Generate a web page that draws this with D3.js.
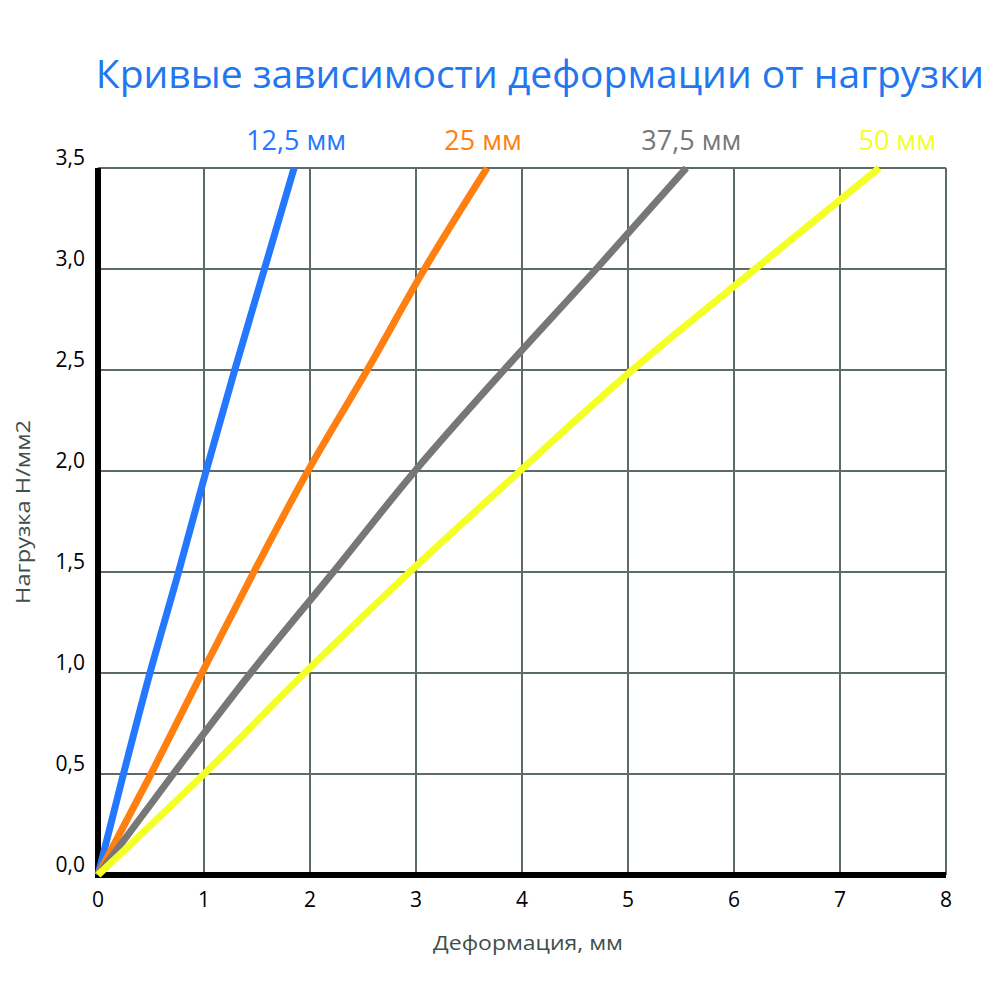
<!DOCTYPE html>
<html>
<head>
<meta charset="utf-8">
<script src="https://cdn.jsdelivr.net/npm/d3@7"></script>
<style>
  body { margin: 0; background: #fff; }
  svg { display: block; }
</style>
</head>
<body>
<div class="graph"></div>
<script>
// Нагрузка, Н/мм2 (одинаковая для всех кривых)
const loads = [0, 0.5, 1.0, 1.5, 2.0, 2.5, 3.0, 3.5];
// Деформация, мм для каждой толщины
const deform125 = [0, 0.24, 0.49, 0.76, 1.02, 1.29, 1.57, 1.85];
const deform25 = [0, 0.50, 0.98, 1.47, 1.98, 2.54, 3.08, 3.67];
const deform375 = [0, 0.71, 1.44, 2.22, 2.99, 3.83, 4.70, 5.55];
const deform50 = [0, 1.00, 1.95, 2.94, 3.98, 5.04, 6.20, 7.37];
const seriesNames = ['12,5 мм', '25 мм', '37,5 мм', '50 мм'];
const xTicks = [0, 1, 2, 3, 4, 5, 6, 7, 8];
const yTicks = [0, 0.5, 1.0, 1.5, 2.0, 2.5, 3.0, 3.5];

const title = 'Кривые зависимости деформации от нагрузки';
const xTitle = 'Деформация, мм';
const yTitle = 'Нагрузка Н/мм2';

document.addEventListener('DOMContentLoaded', function () {
  const width = 1000;
  const height = 1000;
  const margin = { top: 168, right: 54, bottom: 125, left: 98 };

  const svg = d3.select('.graph')
    .append('svg')
    .attr('width', width)
    .attr('height', height);

  const x = d3.scaleLinear().domain([0, 8]).range([margin.left, width - margin.right]);
  const y = d3.scaleLinear().domain([0, 3.5]).range([height - margin.bottom, margin.top]);

  const colors = ['#2477ff', '#ff7f10', '#777777', '#f3ff25'];
  const series = [deform125, deform25, deform375, deform50].map((d, i) => ({
    name: seriesNames[i],
    color: colors[i],
    points: d.map((v, j) => [v, loads[j]])
  }));

  // Title
  svg.append('text')
    .attr('x', 540)
    .attr('y', 88)
    .attr('text-anchor', 'middle')
    .attr('font-family', 'Open Sans, sans-serif')
    .attr('font-size', '39px')
    .attr('fill', '#2277ee')
    .text(title);

  // Grid
  const grid = svg.append('g');
  grid.selectAll('line.v')
    .data(xTicks.slice(1))
    .enter()
    .append('line')
    .attr('x1', d => x(d))
    .attr('x2', d => x(d))
    .attr('y1', y(3.5))
    .attr('y2', y(0))
    .attr('stroke', '#5c6a68')
    .attr('stroke-width', 2);
  grid.selectAll('line.h')
    .data(yTicks.slice(1))
    .enter()
    .append('line')
    .attr('x1', x(0))
    .attr('x2', x(8))
    .attr('y1', d => y(d))
    .attr('y2', d => y(d))
    .attr('stroke', '#5c6a68')
    .attr('stroke-width', 2);

  // Axes (thick black lines)
  svg.append('line')
    .attr('x1', x(0)).attr('x2', x(0))
    .attr('y1', y(3.5)).attr('y2', y(0) + 3)
    .attr('stroke', '#000').attr('stroke-width', 6);
  svg.append('line')
    .attr('x1', x(0) - 3).attr('x2', x(8))
    .attr('y1', y(0)).attr('y2', y(0))
    .attr('stroke', '#000').attr('stroke-width', 6);

  // Tick labels
  svg.selectAll('text.xt')
    .data(xTicks)
    .enter()
    .append('text')
    .attr('x', d => x(d))
    .attr('y', y(0) + 32)
    .attr('text-anchor', 'middle')
    .attr('font-family', 'Open Sans, sans-serif')
    .attr('font-size', '21px')
    .attr('fill', '#000')
    .text(d => d);

  svg.selectAll('text.yt')
    .data(yTicks)
    .enter()
    .append('text')
    .attr('x', x(0) - 13)
    .attr('y', d => y(d) - 3)
    .attr('text-anchor', 'end')
    .attr('font-family', 'Open Sans, sans-serif')
    .attr('font-size', '21px')
    .attr('fill', '#000')
    .text(d => d.toFixed(1).replace('.', ','));

  // Axis titles
  svg.append('text')
    .attr('x', 433)
    .attr('y', 950)
    .attr('textLength', 190)
    .attr('lengthAdjust', 'spacingAndGlyphs')
    .attr('font-family', 'Open Sans, sans-serif')
    .attr('font-size', '20px')
    .attr('fill', '#3e4f4c')
    .text(xTitle);

  svg.append('text')
    .attr('transform', 'translate(30,604) rotate(-90)')
    .attr('textLength', 184)
    .attr('lengthAdjust', 'spacingAndGlyphs')
    .attr('font-family', 'Open Sans, sans-serif')
    .attr('font-size', '20px')
    .attr('fill', '#3e4f4c')
    .text(yTitle);

  // Curves
  const line = d3.line()
    .x(d => x(d[0]))
    .y(d => y(d[1]))
    .curve(d3.curveMonotoneY);

  svg.selectAll('path.curve')
    .data(series)
    .enter()
    .append('path')
    .attr('d', d => line(d.points))
    .attr('fill', 'none')
    .attr('stroke', d => d.color)
    .attr('stroke-width', 7);

  // Series labels above the line ends
  const labelShift = [2, -4, 5, 18];
  svg.selectAll('text.series')
    .data(series)
    .enter()
    .append('text')
    .attr('x', (d, i) => x(d.points[d.points.length - 1][0]) + labelShift[i])
    .attr('y', 150)
    .attr('text-anchor', 'middle')
    .attr('font-family', 'Open Sans, sans-serif')
    .attr('font-size', '27px')
    .attr('fill', d => d.color)
    .text(d => d.name);
});
</script>
</body>
</html>
